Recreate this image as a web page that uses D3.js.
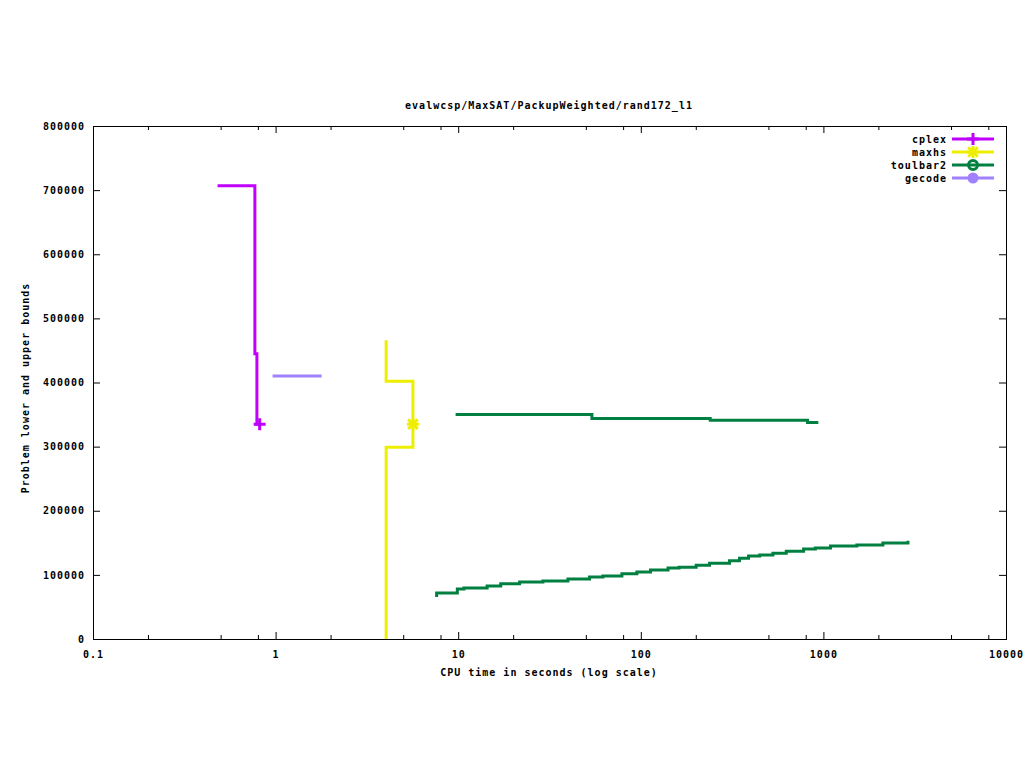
<!DOCTYPE html>
<html><head><meta charset="utf-8">
<script src="https://cdn.jsdelivr.net/npm/d3@7"></script>
<style>
body{margin:0;background:#fff;}
svg text{font-family:"DejaVu Sans Mono","Liberation Mono",monospace;font-weight:bold;font-size:10px;letter-spacing:1px;fill:#000;}
</style></head>
<body><svg id="c" width="1024" height="768"></svg>
<script>
// ---- data ----
const titleText = "evalwcsp/MaxSAT/PackupWeighted/rand172_l1";
const xLabel = "CPU time in seconds (log scale)";
const yLabel = "Problem lower and upper bounds";
const xTickValues = [0.1, 1, 10, 100, 1000, 10000];
const xTickLabels = ["0.1", "1", "10", "100", "1000", "10000"];
const xMinorMultipliers = [2, 5, 8];
const yTickValues = [0, 100000, 200000, 300000, 400000, 500000, 600000, 700000, 800000];
const seriesNames = ["cplex", "maxhs", "toulbar2", "gecode"];
const seriesColors = ["#c000ff", "#eeee00", "#008040", "#a080ff"];

const cplexTimes = [0.481, 0.770, 0.790, 0.818];
const cplexUpper = [707000, 445000, 335000, 335000];

const maxhsTimes = [4.03, 4.03, 5.65];
const maxhsUpper = [466000, 402000, 335000];
const maxhsLower = [0, 299000, 335000];

const toulbarUpperTimes = [9.68, 54.0, 240, 819, 938];
const toulbarUpper = [350000, 344000, 341000, 337500, 337500];
const toulbarLowerTimes = [7.62, 7.62, 9.89, 10.75, 14.4, 17.1, 21.7, 29.1, 39.9, 52.4, 62.0, 78.8, 95.2, 113, 141, 162, 201, 238, 306, 347, 389, 448, 529, 626, 779, 903, 1094, 1525, 2118, 2904, 2904];
const toulbarLower = [65500, 71700, 78000, 79500, 82700, 86200, 88900, 90400, 93600, 96700, 98200, 101800, 104500, 107600, 110700, 111800, 114900, 118000, 122100, 125800, 129400, 131000, 133600, 136800, 140400, 141900, 145000, 146600, 149700, 149700, 153300];

const gecodeTimes = [0.963, 1.786];
const gecodeUpper = [410000, 410000];

// ---- layout ----
const L = 93, R = 1006, T = 126, B = 639;
const svg = d3.select("#c");
svg.append("rect").attr("width",1024).attr("height",768).attr("fill","#fff");

const x = d3.scaleLog().domain([0.1, 10000]).range([L, R]);
const y = d3.scaleLinear().domain([0, 800000]).range([B, T]);

const minorTicks = [];
for (let e = -1; e < 4; e++) xMinorMultipliers.forEach(k => minorTicks.push(k * Math.pow(10, e)));

function styleAxis(g){ g.select(".domain").remove(); g.selectAll("line").attr("stroke","#000").attr("stroke-width",1); }

// minor x ticks bottom/top
svg.append("g").attr("transform",`translate(0,${B})`)
  .call(d3.axisBottom(x).tickValues(minorTicks).tickSizeInner(-4).tickSizeOuter(0).tickFormat(""))
  .call(styleAxis);
svg.append("g").attr("transform",`translate(0,${T})`)
  .call(d3.axisTop(x).tickValues(minorTicks).tickSizeInner(-4).tickSizeOuter(0).tickFormat(""))
  .call(styleAxis);
// major x ticks
svg.append("g").attr("transform",`translate(0,${B})`)
  .call(d3.axisBottom(x).tickValues(xTickValues).tickSizeInner(-7).tickSizeOuter(0).tickPadding(12)
        .tickFormat((d,i)=>xTickLabels[i]))
  .call(styleAxis);
svg.append("g").attr("transform",`translate(0,${T})`)
  .call(d3.axisTop(x).tickValues(xTickValues).tickSizeInner(-7).tickSizeOuter(0).tickFormat(""))
  .call(styleAxis);
// y ticks
svg.append("g").attr("transform",`translate(${L},0)`)
  .call(d3.axisLeft(y).tickValues(yTickValues).tickSizeInner(-7).tickSizeOuter(0).tickPadding(8).tickFormat(d3.format("d")))
  .call(styleAxis);
svg.append("g").attr("transform",`translate(${R},0)`)
  .call(d3.axisRight(y).tickValues(yTickValues).tickSizeInner(-7).tickSizeOuter(0).tickFormat(""))
  .call(styleAxis);

svg.selectAll("g text").attr("font-family",null).attr("font-size",null).attr("fill","#000");

// border
svg.append("rect").attr("x",L+0.5).attr("y",T+0.5).attr("width",R-L).attr("height",B-T)
  .attr("fill","none").attr("stroke","#000").attr("stroke-width",1);

// titles
svg.append("text").attr("x",549).attr("y",109).attr("text-anchor","middle").text(titleText);
svg.append("text").attr("x",549).attr("y",676).attr("text-anchor","middle").text(xLabel);
svg.append("text").attr("transform","translate(29,388) rotate(-90)").attr("text-anchor","middle").text(yLabel);

// lines
const line = d3.line().x(d=>x(d[0])).y(d=>y(d[1])).curve(d3.curveStepAfter);
function drawSeries(times, vals, color){
  svg.append("path").datum(d3.zip(times, vals)).attr("d", line)
    .attr("fill","none").attr("stroke",color).attr("stroke-width",3).attr("stroke-linejoin","miter");
}
drawSeries(gecodeTimes, gecodeUpper, seriesColors[3]);
drawSeries(cplexTimes, cplexUpper, seriesColors[0]);
drawSeries(maxhsTimes, maxhsUpper, seriesColors[1]);
drawSeries(maxhsTimes, maxhsLower, seriesColors[1]);
drawSeries(toulbarUpperTimes, toulbarUpper, seriesColors[2]);
drawSeries(toulbarLowerTimes, toulbarLower, seriesColors[2]);

// markers
function marker(g, type, cx, cy, color){
  const s = 6;
  if (type === "plus" || type === "star"){
    g.append("path").attr("d",`M${cx-s},${cy}H${cx+s}M${cx},${cy-s}V${cy+s}`)
      .attr("stroke",color).attr("stroke-width",3).attr("fill","none");
  }
  if (type === "star"){
    const d = s*0.8;
    g.append("path").attr("d",`M${cx-d},${cy-d}L${cx+d},${cy+d}M${cx-d},${cy+d}L${cx+d},${cy-d}`)
      .attr("stroke",color).attr("stroke-width",3).attr("fill","none");
  }
  if (type === "circle"){
    g.append("circle").attr("cx",cx).attr("cy",cy).attr("r",4.5).attr("fill","none").attr("stroke",color).attr("stroke-width",3);
  }
  if (type === "dot"){
    g.append("circle").attr("cx",cx).attr("cy",cy).attr("r",5.5).attr("fill",color);
  }
}
const last = a => a[a.length-1];
marker(svg, "plus", x(last(cplexTimes)), y(last(cplexUpper)), seriesColors[0]);
marker(svg, "star", x(last(maxhsTimes)), y(last(maxhsUpper)), seriesColors[1]);

// legend
const markerTypes = ["plus","star","circle","dot"];
seriesNames.forEach((n,i)=>{
  const cy = 139 + i*13;
  svg.append("text").attr("x",947).attr("y",cy+3.5).attr("text-anchor","end").text(n);
  svg.append("line").attr("x1",952).attr("x2",994).attr("y1",cy).attr("y2",cy)
    .attr("stroke",seriesColors[i]).attr("stroke-width",3);
  marker(svg, markerTypes[i], 973, cy, seriesColors[i]);
});
</script></body></html>
